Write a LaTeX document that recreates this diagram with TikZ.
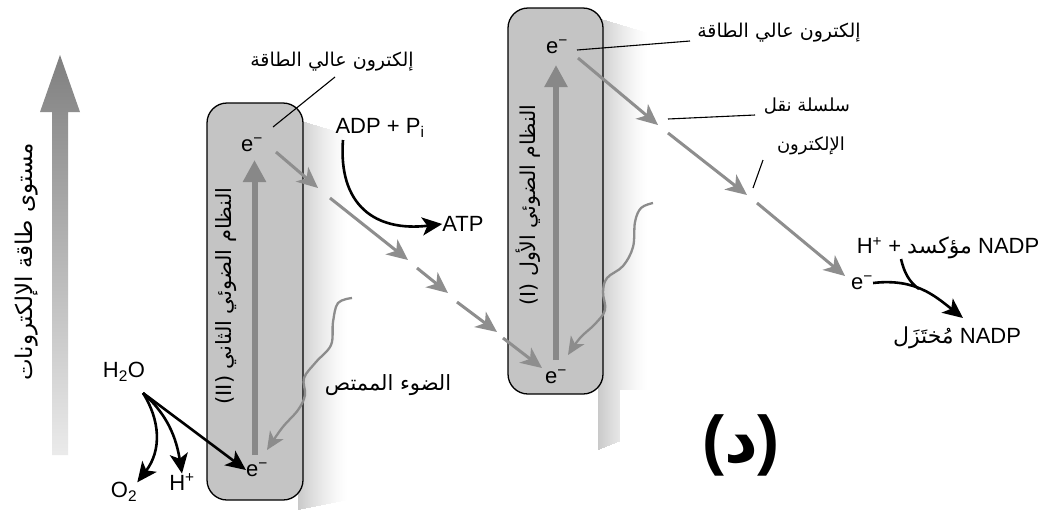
\documentclass[tikz,border=0pt]{standalone}
\usepackage{fontspec}
\setmainfont{Liberation Sans}
\newfontfamily\arabicfont[Script=Arabic]{DejaVu Sans}
\newfontfamily\arabicbold[Script=Arabic]{DejaVu Sans Bold}
\TeXXeTstate=1
\usetikzlibrary{arrows.meta}
\definecolor{boxgray}{HTML}{C4C4C4}
\definecolor{chaingray}{HTML}{8E8E8E}
\definecolor{upgray}{HTML}{888888}
\definecolor{wavegray}{HTML}{8C8C8C}
\newcommand{\AR}[1]{{\arabicfont\beginR #1\endR}}
\newcommand{\ARB}[1]{{\arabicbold\beginR #1\endR}}
\tikzset{
  psbox/.style={draw, line width=1.3pt, fill=boxgray, rounded corners=20pt},
  chain/.style={draw=chaingray, line width=3pt, -{Stealth[length=21pt,width=19pt,inset=6pt]}},
  uparrow/.style={draw=upgray, line width=6pt, -{Triangle[length=22pt,width=22pt]}},
  blackarrow/.style={draw=black, line width=2.6pt, -{Stealth[length=20pt,width=18pt,inset=5pt]}},
  wavy/.style={draw=wavegray, line width=2.3pt, -{Stealth[length=18pt,width=16pt,inset=5pt]}},
  leader/.style={draw=black, line width=1.1pt},
  lbl/.style={inner sep=0pt, font=\fontsize{22}{26}\selectfont},
  arlbl/.style={inner sep=0pt, font=\arabicfont\fontsize{18}{22}\selectfont},
}
\begin{document}
\begin{tikzpicture}[x=1pt,y=-1pt]
\useasboundingbox (0,0) rectangle (1043,523);
\fill[white] (0,0) rectangle (1043,523);

% left energy axis arrow
\shade[top color=black!50, bottom color=black!8]
  (52,455) -- (68,455) -- (68,112) -- (80,112) -- (60,55) -- (40,112) -- (52,112) -- cycle;
\node[arlbl, font=\arabicfont\fontsize{23}{26}\selectfont, rotate=90] (axislbl) at (27,262) {\AR{مستوى طاقة الإلكترونات}};

% soft shadows right of the boxes (stepped gradient)
\foreach \i in {0,...,49}{
  \pgfmathsetmacro{\g}{21*(1-\i/50)^1.4}
  \fill[black!\g] ({298+\i*1.0},{120+\i*0.3}) rectangle ({298+(\i+1)*1.0+0.3},{510-\i*0.2});
  \fill[black!\g] ({598+\i*1.0},{18+\i*0.3}) rectangle ({598+(\i+1)*1.0+0.3},{450-\i*0.4});
}
\fill[white] (620,390) rectangle (1043,523);

% photosystem boxes
\node[psbox, minimum width=96pt, minimum height=397pt] (psII) at (255,301.5) {};
\node[psbox, minimum width=95pt, minimum height=386pt] (psI) at (555.5,201) {};

% electrons
\node[lbl] (e2t) at (252,145) {e\textsuperscript{−}};
\node[lbl] (e2b) at (257,470) {e\textsuperscript{−}};
\node[lbl] (e1t) at (557,47) {e\textsuperscript{−}};
\node[lbl] (e1b) at (556,377) {e\textsuperscript{−}};
\node[lbl] (e3) at (862,283) {e\textsuperscript{−}};

% vertical arrows inside boxes
\coordinate (u2a) at (254.5,455);
\coordinate (u2b) at (254.5,160);
\draw[uparrow] (u2a) -- (u2b);
\coordinate (u1a) at (556,360);
\coordinate (u1b) at (556,65);
\draw[uparrow] (u1a) -- (u1b);

% rotated box labels
\node[arlbl, font=\arabicfont\fontsize{21}{24}\selectfont, rotate=90] (psIIlbl) at (226,296) {(II)~\AR{النظام الضوئي الثاني}};
\node[arlbl, font=\arabicfont\fontsize{20.5}{24}\selectfont, rotate=90] (psIlbl) at (528,205) {(I)~\AR{النظام الضوئي الأول}};

% electron transport chain 1
\coordinate (c1) at (276,152); \coordinate (c2) at (318,188);
\coordinate (c3) at (330,198); \coordinate (c4) at (408,260);
\coordinate (c5) at (417,268); \coordinate (c6) at (448,293);
\coordinate (c7) at (457,302); \coordinate (c8) at (497,332);
\coordinate (c9) at (503,338); \coordinate (c10) at (542,368);
\draw[chain] (c1) -- (c2);
\draw[chain] (c3) -- (c4);
\draw[chain] (c5) -- (c6);
\draw[chain] (c7) -- (c8);
\draw[chain] (c9) -- (c10);

% electron transport chain 2
\coordinate (d1) at (578,58); \coordinate (d2) at (658,125);
\coordinate (d3) at (668,133); \coordinate (d4) at (747,195);
\coordinate (d5) at (757,203); \coordinate (d6) at (845,276);
\draw[chain] (d1) -- (d2);
\draw[chain] (d3) -- (d4);
\draw[chain] (d5) -- (d6);

% high energy electron labels
\node[arlbl, font=\arabicfont\fontsize{19}{22}\selectfont] (hi2) at (332,62) {\AR{إلكترون عالي الطاقة}};
\coordinate (hi2a) at (335,77); \coordinate (hi2b) at (273,127);
\draw[leader] (hi2a) -- (hi2b);
\node[arlbl, font=\arabicfont\fontsize{19}{22}\selectfont] (hi1) at (779,33) {\AR{إلكترون عالي الطاقة}};
\coordinate (hi1a) at (690,41); \coordinate (hi1b) at (577,50);
\draw[leader] (hi1a) -- (hi1b);

% chain labels
\node[arlbl] (etc1) at (807,106) {\AR{سلسلة نقل}};
\coordinate (etc1a) at (755,115); \coordinate (etc1b) at (668,119);
\draw[leader] (etc1a) -- (etc1b);
\node[arlbl] (etc2) at (811,146) {\AR{الإلكترون}};
\coordinate (etc2a) at (763,160); \coordinate (etc2b) at (753,188);
\draw[leader] (etc2a) -- (etc2b);

% ADP -> ATP
\node[lbl] (adp) at (380,128) {ADP + P\textsubscript{i}};
\node[lbl] (atp) at (463,224) {ATP};
\coordinate (adps) at (343,140);
\draw[blackarrow] (adps) .. controls (338,205) and (375,232) .. (atp.west);

% absorbed light
\node[arlbl, font=\arabicfont\fontsize{21}{24}\selectfont] (light) at (388,385) {\AR{الضوء الممتص}};
\coordinate (w2s) at (352,298);
\coordinate (w2e) at (267,450);
\draw[wavy] plot[smooth, tension=0.6] coordinates {(w2s) (338,303) (333,322) (331,345) (316,362) (304,378) (305,395) (298,410) (282,428) (w2e)};
\coordinate (w1s) at (653,203);
\coordinate (w1e) at (568,355);
\draw[wavy] plot[smooth, tension=0.6] coordinates {(w1s) (641,208) (635,222) (633,247) (623,266) (607,278) (603,292) (605,310) (595,324) (580,338) (w1e)};

% water splitting
\node[lbl] (h2o) at (124,372) {H\textsubscript{2}O};
\node[lbl] (o2) at (124,492) {O\textsubscript{2}};
\node[lbl] (hplus) at (182,482) {H\textsuperscript{+}};
\coordinate (ws) at (143,393);
\draw[blackarrow] (ws) -- (e2b.west);
\draw[blackarrow] (ws) .. controls (162,410) and (175,430) .. (hplus.north);
\draw[blackarrow] (ws) .. controls (160,420) and (162,450) .. (o2.north east);

% NADP
\node[lbl] (nadpox) at (948,248) {H\textsuperscript{+} + \AR{مؤكسد} NADP};
\node[lbl] (nadpred) at (957,338) {\AR{مُختَزَل} NADP};
\coordinate (nadpend) at (963,318);
\draw[blackarrow] (e3.east) .. controls (915,278) and (935,296) .. (nadpend);
\coordinate (hjoin) at (901,259);
\coordinate (hmeet) at (919,289);
\draw[line width=2.6pt] (hjoin) .. controls (904,272) and (909,282) .. (hmeet);

% panel label
\node[inner sep=0pt, font=\bfseries\fontsize{66}{72}\selectfont] (panel) at (741,445) {(\ARB{د})};
\end{tikzpicture}
\end{document}
